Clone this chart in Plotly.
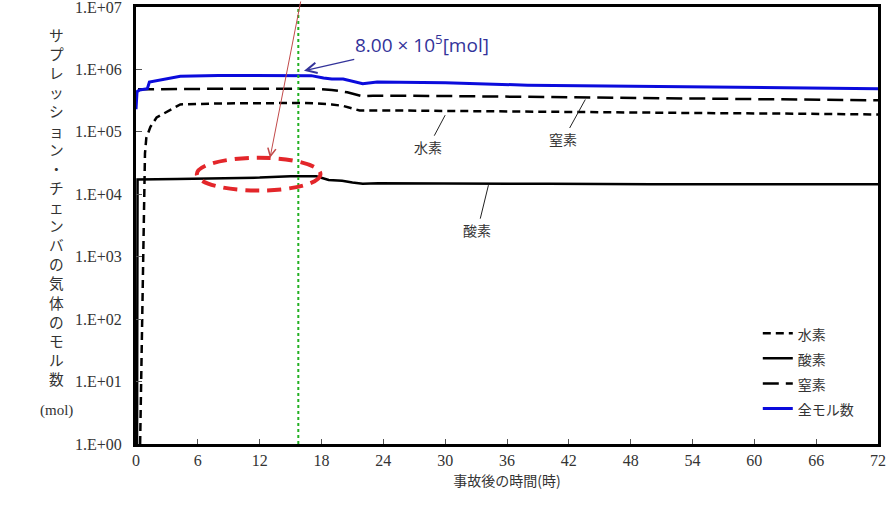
import numpy as np
import plotly.graph_objects as go

# ---- data (hours after accident, mol) ----
t_h2 = [0.4, 0.5, 0.6, 0.75, 0.8, 0.87, 1.0, 1.4, 2.0, 3.3, 4.3, 8, 12, 16, 17.6, 19, 20.1, 21.0, 21.7, 25, 35, 45, 55, 65, 72]
v_h2 = [1, 10, 100, 1.0e3, 1.0e4, 4.5e4, 8.0e4, 1.2e5, 1.7e5, 2.2e5, 2.75e5, 2.85e5, 2.9e5, 2.9e5, 2.85e5, 2.75e5, 2.6e5, 2.35e5, 2.2e5, 2.2e5, 2.15e5, 2.05e5, 2.0e5, 1.95e5, 1.9e5]

t_o2 = [0.1, 0.15, 4, 8, 12, 15, 17.5, 18.7, 20, 21, 22, 23.5, 30, 40, 50, 60, 72]
v_o2 = [1, 1.72e4, 1.75e4, 1.8e4, 1.85e4, 1.95e4, 1.95e4, 1.7e4, 1.65e4, 1.55e4, 1.47e4, 1.5e4, 1.5e4, 1.47e4, 1.45e4, 1.45e4, 1.45e4]

t_n2 = [0.2, 4, 8, 12, 16, 17.5, 19, 20.5, 22, 23, 30, 40, 50, 60, 72]
v_n2 = [4.8e5, 4.9e5, 4.9e5, 4.9e5, 4.9e5, 4.9e5, 4.7e5, 4.3e5, 3.7e5, 3.8e5, 3.75e5, 3.6e5, 3.45e5, 3.3e5, 3.2e5]

t_tot = [0, 0.1, 0.35, 1.1, 1.3, 2.5, 4.3, 8, 12, 16, 17, 18.2, 19, 20.1, 21, 22, 23.4, 30, 38, 50, 60, 72]
v_tot = [2.3e5, 4.4e5, 4.7e5, 4.9e5, 6.3e5, 6.9e5, 7.8e5, 8.0e5, 8.0e5, 8.0e5, 7.95e5, 7.3e5, 7.0e5, 7.0e5, 6.5e5, 5.9e5, 6.3e5, 6.1e5, 5.6e5, 5.3e5, 5.1e5, 4.9e5]

x_ticks = list(range(0, 73, 6))
y_tickvals = [10 ** k for k in range(0, 8)]
y_ticktext = ["1.E+0%d" % k for k in range(0, 8)]

t_mark = 15.75          # green dotted reference time

names = ["水素", "酸素", "窒素", "全モル数"]

SERIF = '"Liberation Serif", "Times New Roman", serif'
JP = '"Noto Sans CJK JP", sans-serif'

fig = go.Figure()
leg = lambda s: "<span style='font-size:14px'>%s</span>" % s
fig.add_trace(go.Scatter(x=t_h2, y=v_h2, mode="lines", name=leg(names[0]),
                         line=dict(color="black", width=2.5, dash="8px,5px")))
fig.add_trace(go.Scatter(x=t_o2, y=v_o2, mode="lines", name=leg(names[1]),
                         line=dict(color="black", width=2.5)))
fig.add_trace(go.Scatter(x=t_n2, y=v_n2, mode="lines", name=leg(names[2]),
                         line=dict(color="black", width=2.5, dash="16px,7px")))
fig.add_trace(go.Scatter(x=t_tot, y=v_tot, mode="lines", name=leg(names[3]),
                         line=dict(color="#0b0bdc", width=3)))

# green dotted vertical line
fig.add_shape(type="line", x0=t_mark, x1=t_mark, xref="x", y0=0, y1=1, yref="y domain",
              line=dict(color="#22b022", width=2, dash="dot"))

# red dashed ellipse (highlight)
fig.add_shape(type="circle", xref="x", yref="y domain", x0=5.9, x1=17.9, y0=0.58, y1=0.655,
              line=dict(color="#e3262a", width=4, dash="14px,8px"))

# red arrow from top
fig.add_annotation(x=13.0, y=np.log10(3.8e4), xref="x", yref="y", text="",
                   showarrow=True, ax=31, ay=-162, arrowhead=5, arrowsize=1.6,
                   arrowwidth=1, arrowcolor="#c24a4a")

# blue annotation
fig.add_annotation(x=16.3, y=np.log10(9.5e5), xref="x", yref="y",
                   text="8.00 × 10<sup>5</sup>[mol]", showarrow=True, ax=118, ay=-27,
                   arrowhead=5, arrowsize=1.6, arrowwidth=1.3, arrowcolor="#33339a",
                   font=dict(family="Open Sans, Liberation Sans, sans-serif", size=19, color="#33339a"))

# series labels with pointer lines
for nm, tx, ty, ax, ay in [("水素", 30.0, 1.85e5, -17, 32),
                            ("窒素", 43.6, 3.3e5, -22, 40),
                            ("酸素", 34.2, 1.4e4, -11, 45)]:
    fig.add_annotation(x=tx, y=np.log10(ty), xref="x", yref="y", text=nm, showarrow=True,
                       ax=ax, ay=ay, arrowhead=0, arrowwidth=1, arrowcolor="#222",
                       font=dict(family=JP, size=14, color="#333"))

# vertical y-axis title
ytitle = "サプレッション・チェンバの気体のモル数"
fig.add_annotation(x=-0.1065, y=0.5436, xref="paper", yref="paper", showarrow=False,
                   text="<br>".join(list(ytitle)), xanchor="center", yanchor="middle",
                   font=dict(family=JP, size=14.7, color="#333"))
fig.add_annotation(x=-0.1065, y=0.0757, xref="paper", yref="paper", showarrow=False,
                   text="(mol)", xanchor="center", yanchor="middle",
                   font=dict(family=SERIF, size=15, color="#333"))

fig.update_layout(
    width=890, height=507,
    margin=dict(l=136, r=12, t=7, b=63, autoexpand=False),
    paper_bgcolor="white", plot_bgcolor="white",
    showlegend=True,
    legend=dict(x=0.838, y=0.2936, xanchor="left", yanchor="top", bgcolor="rgba(255,255,255,0)",
                font=dict(family=JP, size=17, color="#333"), tracegroupgap=0),
    xaxis=dict(range=[0, 72], tickvals=x_ticks, ticks="inside", ticklen=5, tickcolor="#555",
               showline=True, linecolor="black", linewidth=3, mirror=True, showgrid=False,
               zeroline=False, tickfont=dict(family=SERIF, size=16, color="#333"),
               ticklabeloverflow="allow",
               title=dict(text="事故後の時間(時)", font=dict(family=JP, size=14, color="#333"), standoff=8)),
    yaxis=dict(type="log", range=[0, 7], tickvals=y_tickvals, ticktext=y_ticktext, ticks="inside",
               ticklen=6, tickcolor="#555", showline=True, linecolor="black", linewidth=3, mirror=True,
               showgrid=False, zeroline=False, ticklabelstandoff=8, ticklabeloverflow="allow",
               tickfont=dict(family=SERIF, size=16, color="#333")),
)

fig.write_html("out.html", config={"displayModeBar": False},
               post_script="document.body.style.margin='0';document.body.style.overflow='hidden';")
